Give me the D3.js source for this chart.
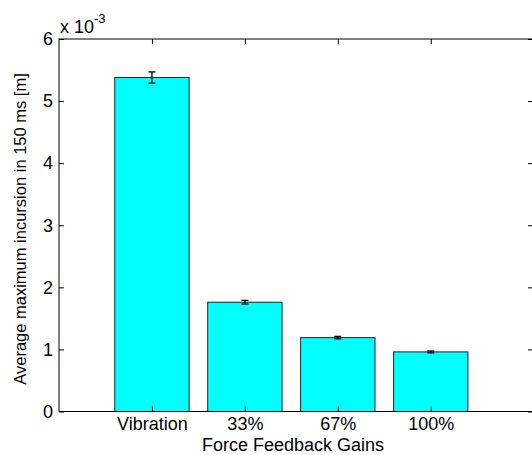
<!DOCTYPE html>
<html>
<head>
<meta charset="utf-8">
<script src="https://cdn.jsdelivr.net/npm/d3@7"></script>
<style>
  body { margin: 0; background: #fff; }
  svg { display: block; font-family: Arial, "Liberation Sans", sans-serif; }
</style>
</head>
<body>
<div id="chart"></div>
<script>
const categories = ["Vibration", "33%", "67%", "100%"]
const means = [5.38, 1.76, 1.19, 0.96]      // x 10^-3 m
const errors = [0.09, 0.03, 0.02, 0.015]
const yTicks = [0, 1, 2, 3, 4, 5, 6]

const W = 532, H = 455
const box = {left: 59, top: 39, right: 533, bottom: 411.5}

const svg = d3.select("#chart")
    .append("svg")
    .attr("width", W)
    .attr("height", H)

const x = d3.scaleLinear().domain([0, 5.1]).range([box.left, box.right])
const y = d3.scaleLinear().domain([0, 6]).range([box.bottom, box.top])
const barW = x(0.8) - x(0)

// bars
svg.append("g")
    .selectAll("rect")
    .data(means)
    .join("rect")
    .attr("x", (d, i) => x(i + 1) - barW / 2)
    .attr("y", d => y(d))
    .attr("width", barW)
    .attr("height", d => y(0) - y(d))
    .attr("fill", "#00ffff")
    .attr("stroke", "#222")
    .attr("stroke-width", 1)

// error bars
const eb = svg.append("g").attr("stroke", "#000").attr("stroke-width", 1.3)
means.forEach((m, i) => {
    const cx = x(i + 1)
    eb.append("line").attr("x1", cx).attr("x2", cx).attr("y1", y(m - errors[i])).attr("y2", y(m + errors[i]))
    eb.append("line").attr("x1", cx - 3.5).attr("x2", cx + 3.5).attr("y1", y(m - errors[i])).attr("y2", y(m - errors[i]))
    eb.append("line").attr("x1", cx - 3.5).attr("x2", cx + 3.5).attr("y1", y(m + errors[i])).attr("y2", y(m + errors[i]))
})

// axes box
svg.append("rect")
    .attr("x", box.left).attr("y", box.top)
    .attr("width", box.right - box.left).attr("height", box.bottom - box.top)
    .attr("fill", "none").attr("stroke", "#000").attr("stroke-width", 1)

// left y axis
const yAxis = svg.append("g")
    .attr("transform", `translate(${box.left},0)`)
    .call(d3.axisLeft(y).tickValues(yTicks).tickFormat(d3.format("d"))
        .tickSizeInner(-5).tickSizeOuter(0).tickPadding(6))
yAxis.select(".domain").remove()
yAxis.selectAll("text").style("font-size", "18px").attr("fill", "#000")

// right ticks
const yAxisR = svg.append("g")
    .attr("transform", `translate(${box.right},0)`)
    .call(d3.axisRight(y).tickValues(yTicks).tickSizeInner(-5).tickSizeOuter(0).tickFormat(""))
yAxisR.select(".domain").remove()

// bottom x axis
const xAxis = svg.append("g")
    .attr("transform", `translate(0,${box.bottom})`)
    .call(d3.axisBottom(x).tickValues([1, 2, 3, 4]).tickFormat((d, i) => categories[i])
        .tickSizeInner(-5).tickSizeOuter(0).tickPadding(6))
xAxis.select(".domain").remove()
xAxis.selectAll("text").style("font-size", "18px").attr("fill", "#000")

// top ticks
const xAxisT = svg.append("g")
    .attr("transform", `translate(0,${box.top})`)
    .call(d3.axisTop(x).tickValues([1, 2, 3, 4]).tickSizeInner(-5).tickSizeOuter(0).tickFormat(""))
xAxisT.select(".domain").remove()

// exponent label
const expo = svg.append("text")
    .attr("x", box.left + 1)
    .attr("y", 33)
    .style("font-size", "18px")
expo.append("tspan").text("x 10")
expo.append("tspan").attr("dy", -10).style("font-size", "13px").text("-3")

// axis titles
svg.append("text")
    .attr("text-anchor", "middle")
    .attr("x", 293)
    .attr("y", 451)
    .style("font-size", "18px")
    .text("Force Feedback Gains")

svg.append("text")
    .attr("text-anchor", "middle")
    .attr("transform", `translate(26,229) rotate(-90)`)
    .style("font-size", "16.5px")
    .text("Average maximum incursion in 150 ms [m]")
</script>
</body>
</html>
